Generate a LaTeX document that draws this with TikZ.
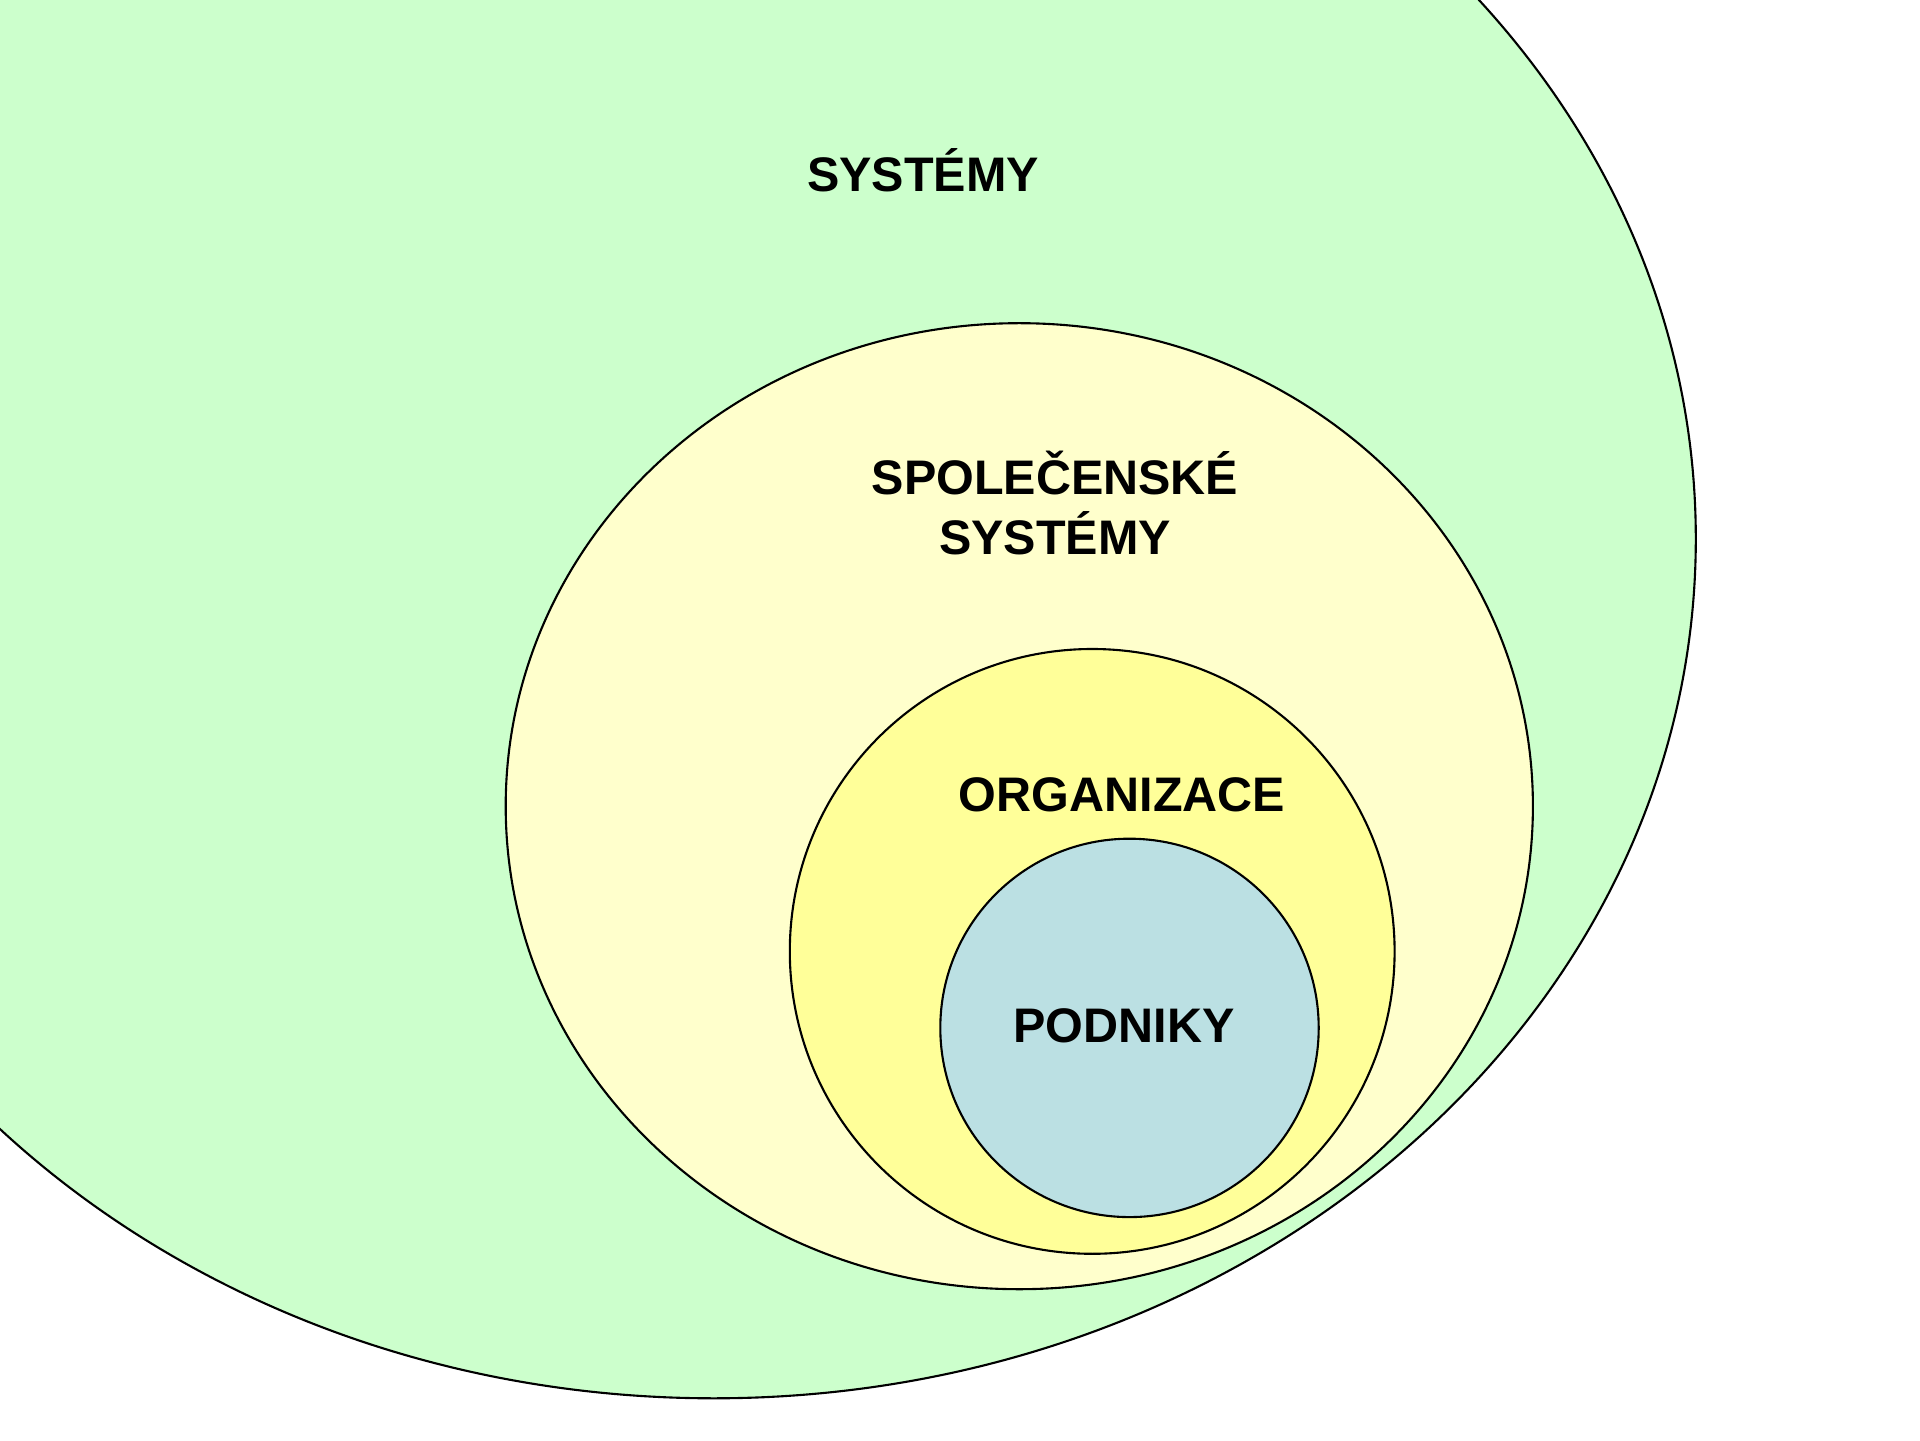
\documentclass[tikz,border=0pt]{standalone}
\usepackage{fontspec}
\setmainfont{Liberation Sans}
\definecolor{sysgreen}{HTML}{CCFFCC}
\definecolor{socyellow}{HTML}{FFFFCC}
\definecolor{orgyellow}{HTML}{FFFF99}
\definecolor{podblue}{HTML}{BBE0E3}
\tikzset{
  label/.style={font=\bfseries\fontsize{13.8}{17.2}\selectfont, inner sep=0pt},
  set/.style={draw=black, line width=0.6pt}
}
\begin{document}
\begin{tikzpicture}
\def\systemy{(7.138,9.012) ellipse (9.82cm and 8.595cm)}
\def\spolecenske{(10.193,6.338) ellipse (5.136cm and 4.83cm)}
\def\organizace{(10.922,4.886) circle (3.024cm)}
\def\podniky{(11.295,4.121) circle (1.892cm)}
\useasboundingbox (0,0) rectangle (19.2,14.4);
\clip (0,0) rectangle (19.2,14.4);
\fill[white] (0,0) rectangle (19.2,14.4);
\draw[set, fill=sysgreen] \systemy;
\draw[set, fill=socyellow] \spolecenske;
\draw[set, fill=orgyellow] \organizace;
\draw[set, fill=podblue] \podniky;
\node[label, anchor=base] (sys) at (9.23,12.485) {SYSTÉMY};
\node[label, align=center] (soc) at (10.55,9.37) {SPOLEČENSKÉ\\SYSTÉMY};
\node[label, anchor=base] (org) at (11.22,6.285) {ORGANIZACE};
\node[label, anchor=base] (pod) at (11.24,3.98) {PODNIKY};
\end{tikzpicture}
\end{document}
